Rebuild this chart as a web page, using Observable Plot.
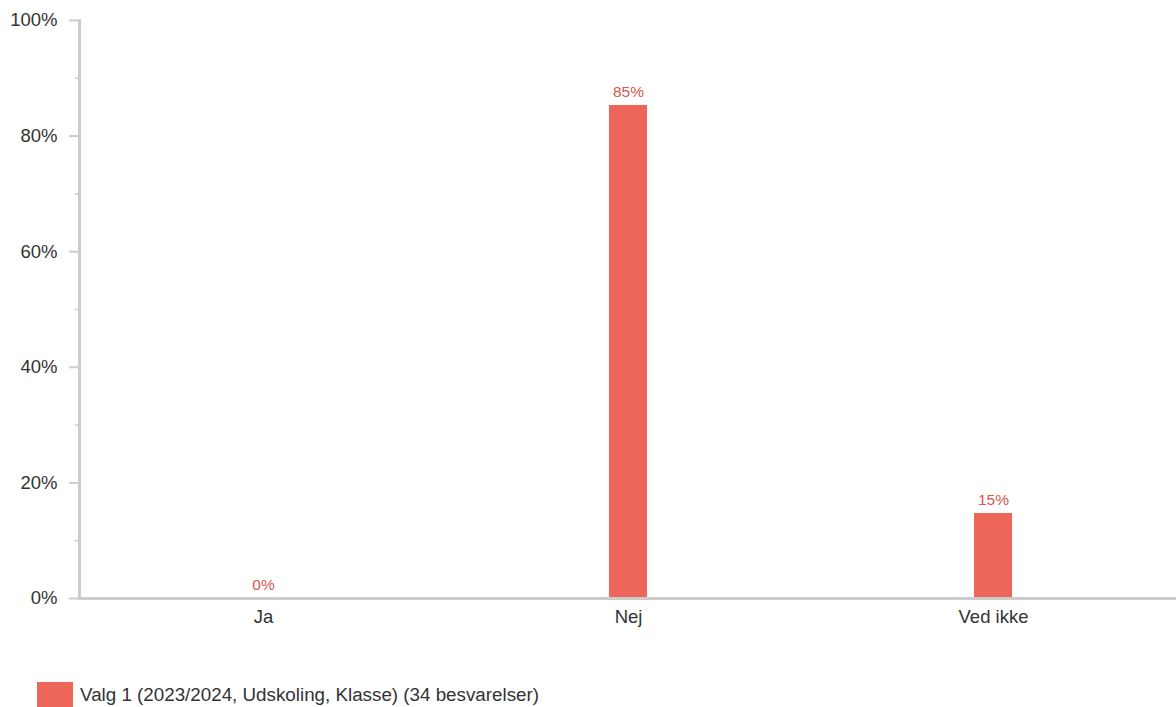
<!DOCTYPE html>
<html>
<head>
<meta charset="utf-8">
<script src="https://cdn.jsdelivr.net/npm/d3@7"></script>
<script src="https://cdn.jsdelivr.net/npm/@observablehq/plot@0.6"></script>
<style>
  body { margin: 0; background: #fff; font-family: "Liberation Sans", Arial, sans-serif; }
  #legend { position: absolute; left: 37px; top: 682px; display: flex; align-items: center; font-size: 18.8px; color: #333; }
  #legend .sw { width: 36px; height: 25px; background: #ec6759; margin-right: 7px; }
</style>
</head>
<body>
<div id="chart"></div>
<div id="legend"><div class="sw"></div><span id="legendText"></span></div>
<script>
const categories = ["Ja", "Nej", "Ved ikke"];
const counts = [0, 29, 5];
const total = 34;
const majorTicks = [0, 0.2, 0.4, 0.6, 0.8, 1];
const minorTicks = [0.1, 0.3, 0.5, 0.7, 0.9];
const seriesName = "Valg 1 (2023/2024, Udskoling, Klasse) (34 besvarelser)";

const data = categories.map((c, i) => ({category: c, value: counts[i] / total}));
document.getElementById("legendText").textContent = seriesName;

const chart = Plot.plot({
  width: 1176,
  height: 650,
  marginLeft: 79,
  marginRight: 0,
  marginTop: 20,
  marginBottom: 52,
  style: {fontFamily: "Liberation Sans, Arial, sans-serif", fontSize: "18px", color: "#333", background: "#fff"},
  x: {domain: categories, paddingInner: 0.896, paddingOuter: 0.448, align: 0.5, label: null},
  y: {domain: [0, 1], label: null},
  marks: [
    Plot.axisY({ticks: minorTicks, tickSize: 4, text: null, stroke: "#ccc", strokeWidth: 1.5, strokeOpacity: 1, label: null}),
    Plot.axisY({ticks: majorTicks, tickSize: 10, tickPadding: 12, tickFormat: d3.format(".0%"), stroke: "#ccc", strokeWidth: 2, strokeOpacity: 1, fill: "#333", fontSize: 18.5, label: null}),
    Plot.axisX({tickSize: 0, tickPadding: 11, fill: "#333", fontSize: 18.5, label: null}),
    Plot.barY(data, {x: "category", y: "value", fill: "#ec6759"}),
    Plot.frame({anchor: "left", stroke: "#ccc", strokeWidth: 3}),
    Plot.frame({anchor: "bottom", stroke: "#ccc", strokeWidth: 3}),
    Plot.text(data, {x: "category", y: "value", text: d => d3.format(".0%")(d.value), dy: -13, fill: "#d9574c", fontSize: 15.5})
  ]
});
document.getElementById("chart").appendChild(chart);
</script>
</body>
</html>
